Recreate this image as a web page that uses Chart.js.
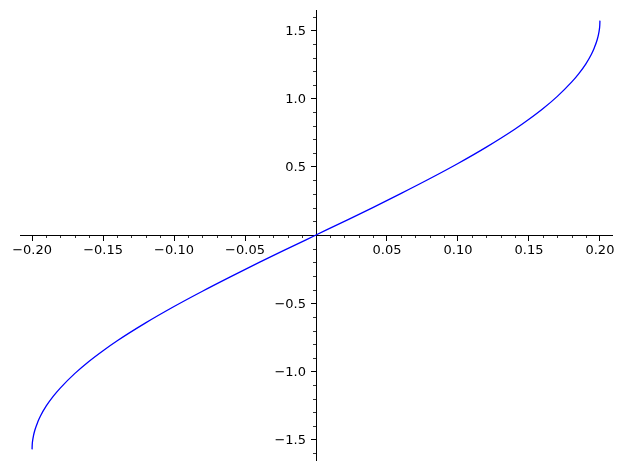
<!DOCTYPE html>
<html>
<head>
<meta charset="utf-8">
<script src="https://cdn.jsdelivr.net/npm/chart.js@4/dist/chart.umd.min.js"></script>
<style>
  html, body { margin: 0; padding: 0; background: #fff; }
  #wrap { width: 626px; height: 470px; }
</style>
</head>
<body>
<div id="wrap"><canvas id="plot" width="626" height="470"></canvas></div>
<script>
// Points
const xs = [-0.2, -0.1999, -0.1995, -0.199, -0.198, -0.196, -0.194, -0.19, -0.185, -0.18, -0.17, -0.16, -0.15, -0.14, -0.12, -0.10, -0.08, -0.06, -0.04, -0.02,
  0, 0.02, 0.04, 0.06, 0.08, 0.10, 0.12, 0.14, 0.15, 0.16, 0.17, 0.18, 0.185, 0.19, 0.194, 0.196, 0.198, 0.199, 0.1995, 0.1999, 0.2];
const ys = [-1.571, -1.539, -1.500, -1.471, -1.429, -1.371, -1.325, -1.253, -1.181, -1.120, -1.016, -0.927, -0.848, -0.775, -0.644, -0.524, -0.412, -0.305, -0.201, -0.100,
  0, 0.100, 0.201, 0.305, 0.412, 0.524, 0.644, 0.775, 0.848, 0.927, 1.016, 1.120, 1.181, 1.253, 1.325, 1.371, 1.429, 1.471, 1.500, 1.539, 1.571];

const xTicks = [-0.20, -0.15, -0.10, -0.05, 0.05, 0.10, 0.15, 0.20];
const yTicks = [-1.5, -1.0, -0.5, 0.5, 1.0, 1.5];
const xRange = [-0.2085, 0.2085];
const yRange = [-1.649, 1.649];

const FONT = { family: "'DejaVu Sans'", size: 13 };
const fmt = (v, d) => (v < 0 ? "\u2212" : "") + Math.abs(v).toFixed(d);

// petites graduations + étiquettes de l'axe y
const axisExtras = {
  id: "axisExtras",
  afterDraw(chart){
    const ctx = chart.ctx, sx = chart.scales.x, sy = chart.scales.y;
    const x0 = sx.getPixelForValue(0), y0 = sy.getPixelForValue(0);
    ctx.save();
    ctx.strokeStyle = "#000"; ctx.lineWidth = 0.8;
    ctx.beginPath();
    for(let i=-20;i<=20;i++){
      if(i%5===0) continue;
      const px = Math.round(sx.getPixelForValue(i/100)) + 0.5;
      ctx.moveTo(px, y0); ctx.lineTo(px, y0 + 3);
    }
    for(let i=-16;i<=16;i++){
      if(i%5===0) continue;
      const py = Math.round(sy.getPixelForValue(i/10)) + 0.5;
      ctx.moveTo(x0, py); ctx.lineTo(x0 - 3, py);
    }
    ctx.stroke();
    // y labels
    ctx.fillStyle = "#000";
    ctx.font = FONT.size + "px " + FONT.family;
    ctx.textAlign = "right"; ctx.textBaseline = "middle";
    yTicks.forEach(v=>{
      ctx.fillText(fmt(v,1), x0 - 10, sy.getPixelForValue(v) + 1);
    });
    ctx.restore();
  }
};

new Chart(document.getElementById("plot"), {
  type: "scatter",
  data: { datasets: [{
    data: xs.map((x,i)=>({x, y: ys[i]})),
    showLine: true, borderColor: "#0000ff", borderWidth: 1.3,
    pointRadius: 0, cubicInterpolationMode: "monotone", fill: false
  }]},
  options: {
    responsive: false, animation: false,
    layout: { padding: { left: 20, right: 14, top: 10, bottom: 10 } },
    plugins: { legend: { display: false }, tooltip: { enabled: false } },
    scales: {
      x: {
        type: "linear", min: xRange[0], max: xRange[1], position: { y: 0 },
        afterFit: (s)=>{ s.height = 0; },
        afterBuildTicks: (s)=>{ s.ticks = xTicks.map(v=>({value:v})); },
        grid: { drawOnChartArea: false, drawTicks: true, tickLength: 5, color: "#000", tickColor: "#000", tickWidth: 1 },
        border: { display: true, color: "#000", width: 1 },
        ticks: { color: "#000", font: FONT, padding: 3, maxRotation: 0, autoSkip: false, callback: (v)=>fmt(v,2) }
      },
      y: {
        type: "linear", min: yRange[0], max: yRange[1], position: { x: 0 },
        afterFit: (s)=>{ s.width = 0; },
        afterBuildTicks: (s)=>{ s.ticks = yTicks.map(v=>({value:v})); },
        grid: { drawOnChartArea: false, drawTicks: true, tickLength: 5, color: "#000", tickColor: "#000", tickWidth: 1 },
        border: { display: true, color: "#000", width: 1 },
        ticks: { display: false }
      }
    }
  },
  plugins: [axisExtras]
});
</script>
</body>
</html>
